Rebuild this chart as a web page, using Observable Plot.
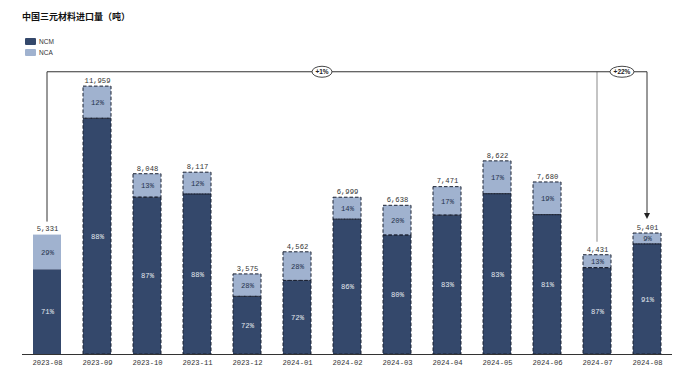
<!DOCTYPE html>
<html>
<head>
<meta charset="utf-8">
<script src="https://cdn.jsdelivr.net/npm/d3@7"></script>
<script src="https://cdn.jsdelivr.net/npm/@observablehq/plot@0.6"></script>
<style>
  html, body { margin: 0; padding: 0; background: #fff; }
  #wrap { position: relative; width: 685px; height: 376px; overflow: hidden; }
  #title { position: absolute; left: 22px; top: 10px; font-family: "Noto Sans CJK SC", sans-serif; font-weight: bold; font-size: 9px; color: #111; }
  #legend { position: absolute; left: 25px; top: 36px; font-family: "Liberation Sans", Arial, sans-serif; font-size: 6.5px; color: #333; }
  .item { display: flex; align-items: center; height: 11px; }
  .sw { width: 11px; height: 7px; margin-right: 3px; border-radius: 1px; }
  #chart { position: absolute; left: 0; top: 0; }
</style>
</head>
<body>
<div id="wrap">
  <div id="chart"></div>
  <div id="title">中国三元材料进口量（吨）</div>
  <div id="legend"></div>
</div>
<script>
// ---- data ----
const months = ["2023-08","2023-09","2023-10","2023-11","2023-12","2024-01","2024-02","2024-03","2024-04","2024-05","2024-06","2024-07","2024-08"];
const totals = [5331, 11959, 8048, 8117, 3575, 4562, 6999, 6638, 7471, 8622, 7680, 4431, 5401];
const ncmPct = [71, 88, 87, 88, 72, 72, 86, 80, 83, 83, 81, 87, 91];
const ncaPct = [29, 12, 13, 12, 28, 28, 14, 20, 17, 17, 19, 13, 9];
const seriesNames = ["NCM", "NCA"];
const seriesColors = ["#34486b", "#a0b2cf"];
const changeLabels = ["+1%", "+22%"];      // 2023-08 -> 2024-08, 2024-07 -> 2024-08
const bracketLevel = 12600;               // height of the comparison bracket (tons)

// ---- build rows ----
const rows = [];
months.forEach((m, i) => {
  rows.push({month: m, series: "NCM", pct: ncmPct[i], value: totals[i] * ncmPct[i] / 100});
  rows.push({month: m, series: "NCA", pct: ncaPct[i], value: totals[i] * ncaPct[i] / 100});
});
const totalRows = months.map((m, i) => ({month: m, total: totals[i]}));
const fmt = d3.format(",");

// legend
const leg = document.getElementById("legend");
seriesNames.forEach((s, i) => {
  const it = document.createElement("div");
  it.className = "item";
  it.innerHTML = `<div class="sw" style="background:${seriesColors[i]}"></div><span>${s}</span>`;
  leg.appendChild(it);
});

// bracket drawn through the plot's own scales
function bracket(index, scales) {
  const {x, y} = scales;
  const bw = x.bandwidth ? x.bandwidth() : 0;
  const cx = m => x(m) + bw / 2;
  const g = d3.create("svg:g");
  const first = months[0], prev = months[months.length - 2], last = months[months.length - 1];
  const yl = y(bracketLevel);
  const gap = 13;
  const topOf = m => y(totals[months.indexOf(m)]) - gap;
  // gray line from previous month
  g.append("line").attr("x1", cx(prev)).attr("x2", cx(prev)).attr("y1", topOf(prev)).attr("y2", yl)
    .attr("stroke", "#b0b0b0").attr("stroke-width", 1.5);
  // black bracket
  g.append("path")
    .attr("d", `M${cx(first)},${topOf(first)}V${yl}H${cx(last)}V${topOf(last) - 6}`)
    .attr("fill", "none").attr("stroke", "#333").attr("stroke-width", 1);
  // arrow head
  const ax = cx(last), ay = topOf(last) - 1;
  g.append("path").attr("d", `M${ax - 3},${ay - 6}L${ax + 3},${ay - 6}L${ax},${ay}Z`).attr("fill", "#222");
  // ellipses
  const badges = [
    {cx: (cx(first) + cx(prev)) / 2, text: changeLabels[0], rx: 10},
    {cx: (cx(prev) + cx(last)) / 2, text: changeLabels[1], rx: 12}
  ];
  for (const b of badges) {
    g.append("ellipse").attr("cx", b.cx).attr("cy", yl).attr("rx", b.rx).attr("ry", 5.5)
      .attr("fill", "#fff").attr("stroke", "#333").attr("stroke-width", 0.9);
    g.append("text").attr("x", b.cx).attr("y", yl).attr("dy", "0.35em").attr("text-anchor", "middle")
      .attr("font-family", "Liberation Sans, Arial, sans-serif").attr("font-size", 6.5).attr("font-weight", "bold")
      .attr("fill", "#222").text(b.text);
  }
  return g.node();
}

const chart = Plot.plot({
  width: 685,
  height: 376,
  marginLeft: 22,
  marginRight: 13,
  marginTop: 18,
  marginBottom: 22,
  style: {fontFamily: "Liberation Mono, DejaVu Sans Mono, monospace", fontSize: "7.2px", color: "#333", background: "transparent"},
  x: {domain: months, paddingInner: 0.44, paddingOuter: 0.22, label: null, tickSize: 0, tickPadding: 5},
  y: {domain: [0, 15000], axis: null},
  color: {domain: seriesNames, range: seriesColors},
  marks: [
    Plot.barY(rows, {x: "month", y: "value", z: "series", fill: "series"}),
    Plot.barY(rows, Plot.stackY({x: "month", y: "value", z: "series", filter: d => d.month !== months[0],
      fill: "none", stroke: "#1b2233", strokeWidth: 1, strokeDasharray: "3.5,2"})),
    Plot.ruleY([0], {stroke: "#333", strokeWidth: 1}),
    Plot.text(rows, Plot.stackY({x: "month", y: "value", z: "series", text: d => d.pct + "%",
      fill: d => d.series === "NCM" ? "#e3e8f0" : "#26324d", fontSize: 7.2})),
    Plot.text(totalRows, {x: "month", y: "total", text: d => fmt(d.total), dy: -6, fill: "#333", fontSize: 7.2}),
    bracket
  ]
});
document.getElementById("chart").appendChild(chart);
</script>
</body>
</html>
